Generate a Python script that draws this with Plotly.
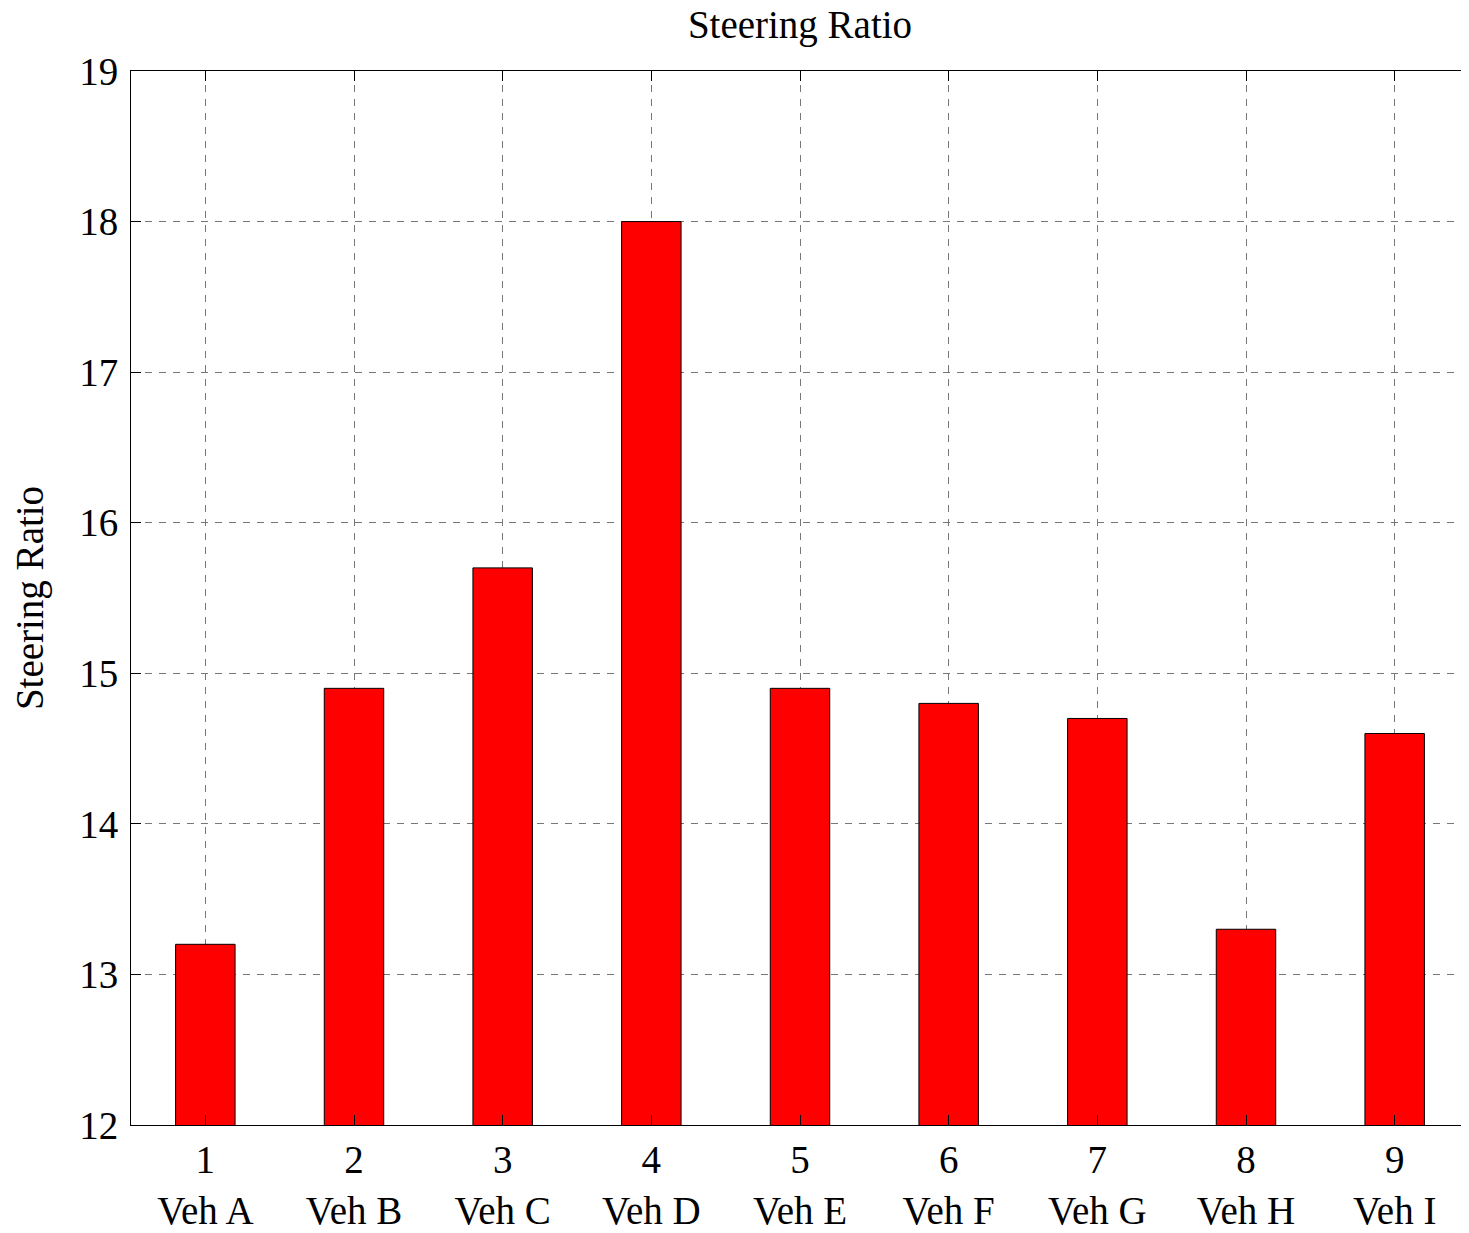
import plotly.graph_objects as go

# bar positions, vehicle names and the measured steering ratios
bar_index = [1, 2, 3, 4, 5, 6, 7, 8, 9]
vehicles = ["Veh A", "Veh B", "Veh C", "Veh D", "Veh E", "Veh F", "Veh G", "Veh H", "Veh I"]
ratios = [13.2, 14.9, 15.7, 18.0, 14.9, 14.8, 14.7, 13.3, 14.6]
y_ticks = [12, 13, 14, 15, 16, 17, 18, 19]

tick_text = [f"{i}<br>{v}" for i, v in zip(bar_index, vehicles)]
font = "Liberation Serif, Times New Roman, serif"

fig = go.Figure()
fig.add_trace(
    go.Bar(
        x=bar_index,
        y=ratios,
        width=0.4,
        marker=dict(color="#ff0000", line=dict(color="black", width=1)),
        hovertemplate="Vehicle %{x}<br>Ratio: %{y}<extra></extra>",
    )
)

axis_common = dict(
    showline=True,
    linecolor="black",
    linewidth=1,
    ticks="inside",
    ticklen=10,
    tickcolor="black",
    showgrid=True,
    gridcolor="#777777",
    gridwidth=1,
    griddash="7px,7px",
    zeroline=False,
    tickfont=dict(family=font, size=39, color="black"),
)

fig.update_xaxes(
    range=[0.5, 9.5],
    tickmode="array",
    tickvals=bar_index,
    ticktext=tick_text,
    mirror="ticks",
    **axis_common,
)
fig.update_yaxes(
    range=[12, 19],
    tickmode="array",
    tickvals=y_ticks,
    ticklabelstandoff=4,
    title=dict(text="Steering Ratio", font=dict(family=font, size=39, color="black"), standoff=24),
    **axis_common,
)

# the page has an 8px body margin, so the figure is a little smaller than the window
fig.update_layout(
    width=1461,
    height=1225,
    template="plotly_white",
    plot_bgcolor="white",
    paper_bgcolor="white",
    showlegend=False,
    margin=dict(l=123, r=0, t=63, b=108),
    title=dict(
        text="Steering Ratio",
        x=0.5,
        xref="paper",
        xanchor="center",
        y=1 - 16 / 1225,
        yref="container",
        yanchor="middle",
        font=dict(family=font, size=39, color="black"),
    ),
)

fig.write_html("out.html")
